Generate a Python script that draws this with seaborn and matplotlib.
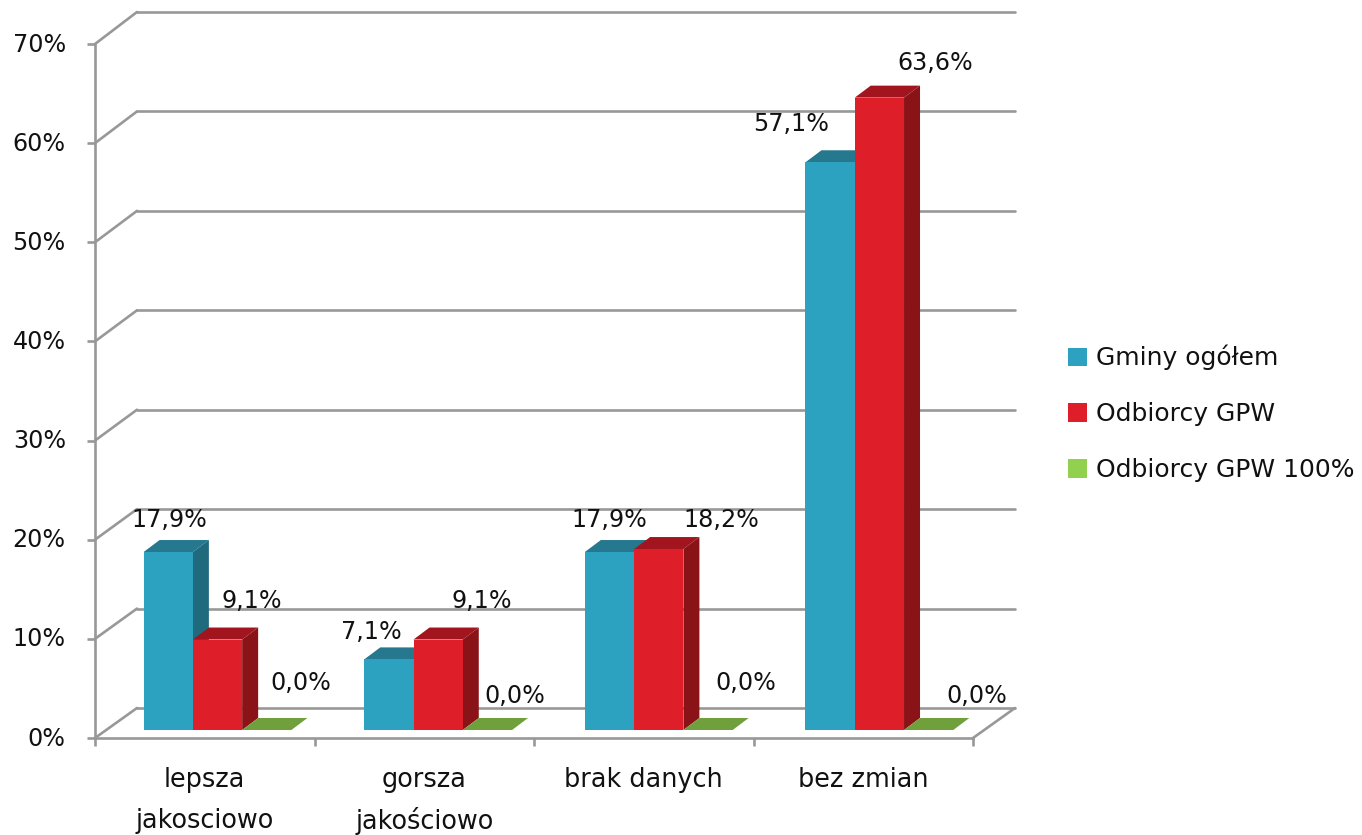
import pandas as pd
import matplotlib.pyplot as plt
import seaborn as sns
from matplotlib.patches import Polygon
from matplotlib.transforms import ScaledTranslation

sns.set_style('white')
plt.rcParams['font.family'] = ['DejaVu Sans']

W, H = 1362, 835
FS = 17.2
FS_CAT = 18.4
FS_LEG = 18
GRID = '#989898'
LW = 1.9

categories = ['lepsza\njakosciowo', 'gorsza\njakościowo', 'brak danych', 'bez zmian']
series = ['Gminy ogółem', 'Odbiorcy GPW', 'Odbiorcy GPW 100%']
gminy = [17.9, 7.1, 17.9, 57.1]
odbiorcy = [9.1, 9.1, 18.2, 63.6]
odbiorcy_100 = [0.0, 0.0, 0.0, 0.0]

front_colors = ['#2ca2c0', '#de1f2a', '#92d050']
top_colors = ['#26788f', '#a3151e', '#70a03c']
side_colors = ['#1f6a7d', '#8a1318', '#70a03c']

# label offsets in pixels from the top centre of each bar
label_offsets = [
    [(1, 32), (-17, 27), (0, 32), (-39, 38)],
    [(34, 39), (44, 39), (63, 29), (56, 35)],
    [(34, 47), (27, 34), (38, 47), (48, 34)],
]

df = pd.DataFrame({
    'kategoria': categories * 3,
    'seria': [s for s in series for _ in categories],
    'wartosc': gminy + odbiorcy + odbiorcy_100,
})


def px_axes(fig, left, right, bottom, top):
    return fig.add_axes([left / W, 1 - bottom / H, (right - left) / W, (bottom - top) / H])


fig = plt.figure(figsize=(W / 100, H / 100), dpi=100)

# walls and axes of the 3d box
wall = px_axes(fig, 95, 973, 738, 44)
wall.set_xlim(-0.5, 3.5)
wall.set_ylim(0, 70)
depth_x = 42 / (878 / 4)
depth_y = 30 / (694 / 70)
back_scale = 696 / 694
for v in range(0, 80, 10):
    back = v * back_scale + depth_y
    wall.plot([-0.5, -0.5 + depth_x], [v, back], color=GRID, lw=LW, clip_on=False)
    wall.plot([-0.5 + depth_x, 3.5 + depth_x], [back, back], color=GRID, lw=LW, clip_on=False)
wall.plot([3.5, 3.5 + depth_x], [0, depth_y], color=GRID, lw=LW, clip_on=False)

sns.despine(ax=wall)
for side in ['left', 'bottom']:
    wall.spines[side].set_color(GRID)
    wall.spines[side].set_linewidth(LW)
wall.set_yticks(range(0, 80, 10))
wall.set_yticklabels([f'{v}%' for v in range(0, 80, 10)], fontsize=FS, color='#111111')
wall.set_xticks(range(4))
wall.set_xticklabels(categories, fontsize=FS_CAT, color='#111111', linespacing=1.78)
wall.get_xticklabels()[1].set_linespacing(1.63)  # the accent makes this line taller
wall.set_xticks([-0.5, 0.5, 1.5, 2.5, 3.5], minor=True)
wall.tick_params(axis='y', length=6, width=LW, color=GRID, pad=15, left=True)
wall.tick_params(axis='x', which='major', length=0, pad=20.7)
wall.tick_params(axis='x', which='minor', length=6, width=LW, color=GRID, bottom=True)
for label in wall.get_yticklabels():
    label.set_transform(label.get_transform() + ScaledTranslation(0, 2 / 100, fig.dpi_scale_trans))

# bars sit in their own plane, in the middle of the box
ax = px_axes(fig, 107.2, 989.7, 730, 34)
ax.patch.set_alpha(0)
sns.barplot(data=df, x='kategoria', y='wartosc', hue='seria', palette=front_colors,
            width=0.67, gap=0, saturation=1, linewidth=0, ax=ax)
ax.set_xlim(-0.5, 3.5)
ax.set_ylim(0, 70)
ax.axis('off')

bar_dx = 16 / (882.5 / 4)
bar_dy = 12 / (696 / 70)
for i, container in enumerate(ax.containers):
    for j, bar in enumerate(container.patches):
        x0 = bar.get_x()
        x1 = x0 + bar.get_width()
        h = bar.get_height()
        z = 2 + j * 10 + i * 2
        bar.set_zorder(z + 1)
        ax.add_patch(Polygon([(x0, h), (x1, h), (x1 + bar_dx, h + bar_dy), (x0 + bar_dx, h + bar_dy)],
                             facecolor=top_colors[i], edgecolor='none', zorder=z, clip_on=False))
        if h > 0:
            ax.add_patch(Polygon([(x1, 0), (x1, h), (x1 + bar_dx, h + bar_dy), (x1 + bar_dx, bar_dy)],
                                 facecolor=side_colors[i], edgecolor='none', zorder=z, clip_on=False))
        ax.annotate(f'{h:.1f}%'.replace('.', ','), xy=((x0 + x1) / 2, h), xytext=label_offsets[i][j],
                    textcoords='offset pixels', ha='center', va='center', fontsize=FS,
                    color='#111111', zorder=100, annotation_clip=False)

sns.move_legend(ax, 'center left', bbox_to_anchor=(1068 / W, 1 - 413.5 / H),
                bbox_transform=fig.transFigure, frameon=False, title=None, fontsize=FS_LEG,
                handlelength=0.76, handleheight=0.76, handletextpad=0.34,
                labelspacing=1.27, borderpad=0, borderaxespad=0)
for text in ax.get_legend().get_texts():
    text.set_color('#111111')

fig.savefig('out.png', dpi=100)
